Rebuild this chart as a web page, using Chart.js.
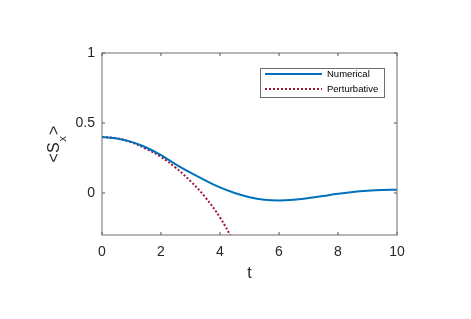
<!DOCTYPE html>
<html>
<head>
<meta charset="utf-8">
<script src="https://cdn.jsdelivr.net/npm/chart.js@4/dist/chart.umd.min.js"></script>
<style>
html, body { margin: 0; padding: 0; background: #fff; }
canvas { display: block; }
</style>
</head>
<body>
<canvas id="c" width="471" height="319" style="width:471px;height:319px"></canvas>
<script>
// values
var tNumerical = [0, 0.5, 1, 1.5, 2, 2.5, 3, 3.5, 4, 4.5, 5, 5.5, 6, 6.5, 7, 7.5, 8, 8.5, 9, 9.5, 10];
var sNumerical = [0.4, 0.39, 0.365, 0.325, 0.27, 0.205, 0.145, 0.09, 0.04, 0.0, -0.03, -0.048, -0.053, -0.048, -0.036, -0.021, -0.006, 0.007, 0.016, 0.022, 0.024];
var tPerturb = [0, 0.5, 1, 1.5, 2, 2.5, 3, 3.5, 4, 4.5];
var sPerturb = [0.4, 0.391, 0.362, 0.315, 0.258, 0.18, 0.085, -0.03, -0.175, -0.36];
var xTicks = [0, 2, 4, 6, 8, 10];
var yTicks = [0, 0.5, 1];
var seriesNames = ['Numerical', 'Perturbative'];

var FONT = '"Liberation Sans", Arial, Helvetica, sans-serif';
var INK = '#262626';

function toPoints(xs, ys) {
    return xs.map(function (x, i) { return { x: x, y: ys[i] }; });
}

// box, inward ticks, axis titles and legend, MATLAB style
var matlabAxes = {
    id: 'matlabAxes',
    afterDraw: function (chart) {
        var ctx = chart.ctx, a = chart.chartArea;
        var xs = chart.scales.x, ys = chart.scales.y;
        ctx.save();

        // ticks (inward, on all four sides)
        ctx.strokeStyle = INK;
        ctx.lineWidth = 0.8;
        ctx.beginPath();
        xTicks.forEach(function (v) {
            var px = xs.getPixelForValue(v);
            ctx.moveTo(px, a.bottom); ctx.lineTo(px, a.bottom - 3);
            ctx.moveTo(px, a.top); ctx.lineTo(px, a.top + 3);
        });
        yTicks.forEach(function (v) {
            var py = ys.getPixelForValue(v);
            ctx.moveTo(a.left, py); ctx.lineTo(a.left + 3, py);
            ctx.moveTo(a.right, py); ctx.lineTo(a.right - 3, py);
        });
        ctx.stroke();

        // box
        ctx.strokeStyle = '#6e6e6e';
        ctx.lineWidth = 1;
        ctx.strokeRect(a.left, a.top, a.right - a.left, a.bottom - a.top);

        // x title
        ctx.fillStyle = INK;
        ctx.font = '16px ' + FONT;
        ctx.textAlign = 'center';
        ctx.textBaseline = 'alphabetic';
        ctx.fillText('t', (a.left + a.right) / 2, 278);

        // y title <S_x>
        ctx.save();
        ctx.translate(59, 144);
        ctx.rotate(-Math.PI / 2);
        ctx.textAlign = 'left';
        ctx.font = '16px ' + FONT;
        var w1 = ctx.measureText('<S').width;
        var w3 = ctx.measureText('>').width;
        ctx.font = '11px ' + FONT;
        var w2 = ctx.measureText('x').width;
        var x0 = -(w1 + w2 + w3 + 2) / 2;
        ctx.font = '16px ' + FONT;
        ctx.fillText('<S', x0, 0);
        ctx.font = '11px ' + FONT;
        ctx.fillText('x', x0 + w1 + 1, 7);
        ctx.font = '16px ' + FONT;
        ctx.fillText('>', x0 + w1 + w2 + 2, 0);
        ctx.restore();

        // legend
        var lx = 260, ly = 68, lw = 124, lh = 29;
        ctx.fillStyle = '#fff';
        ctx.fillRect(lx, ly, lw, lh);
        ctx.strokeStyle = '#6e6e6e';
        ctx.lineWidth = 1;
        ctx.strokeRect(lx + 0.5, ly + 0.5, lw, lh);
        chart.data.datasets.forEach(function (ds, i) {
            var y = ly + 6 + i * 15;
            ctx.strokeStyle = ds.borderColor;
            ctx.lineWidth = ds.borderWidth;
            ctx.setLineDash(ds.borderDash || []);
            ctx.beginPath();
            ctx.moveTo(lx + 5, y);
            ctx.lineTo(lx + 62, y);
            ctx.stroke();
            ctx.setLineDash([]);
            ctx.fillStyle = '#000';
            ctx.font = '9.5px ' + FONT;
            ctx.textAlign = 'left';
            ctx.textBaseline = 'middle';
            ctx.fillText(ds.label, lx + 67, y);
        });
        ctx.restore();
    }
};

var ctx = document.getElementById('c').getContext('2d');
var myChart = new Chart(ctx, {
    type: 'scatter',
    data: {
        datasets: [
            {
                label: seriesNames[0],
                data: toPoints(tNumerical, sNumerical),
                showLine: true,
                borderColor: '#0072BD',
                borderWidth: 2,
                pointRadius: 0,
                tension: 0.4
            },
            {
                label: seriesNames[1],
                data: toPoints(tPerturb, sPerturb),
                showLine: true,
                borderColor: '#A2142F',
                borderWidth: 2,
                borderDash: [2, 2],
                pointRadius: 0,
                tension: 0.4
            }
        ]
    },
    options: {
        responsive: false,
        devicePixelRatio: 1,
        animation: false,
        events: [],
        layout: { padding: { left: 0, top: 53, right: 74, bottom: 0 } },
        plugins: { legend: { display: false }, tooltip: { enabled: false } },
        scales: {
            x: {
                type: 'linear',
                min: 0, max: 10,
                afterBuildTicks: function (s) { s.ticks = xTicks.map(function (v) { return { value: v }; }); },
                afterFit: function (s) { s.height = 84; },
                grid: { display: false, drawTicks: false },
                border: { display: false },
                ticks: { color: INK, padding: 9, font: { size: 14, family: FONT },
                         callback: function (v) { return String(v); } }
            },
            y: {
                type: 'linear',
                min: -0.3, max: 1,
                afterBuildTicks: function (s) { s.ticks = yTicks.map(function (v) { return { value: v }; }); },
                afterFit: function (s) { s.width = 102; },
                grid: { display: false, drawTicks: false },
                border: { display: false },
                ticks: { color: INK, padding: 7, font: { size: 14, family: FONT },
                         callback: function (v) { return String(v); } }
            }
        }
    },
    plugins: [matlabAxes]
});
</script>
</body>
</html>
